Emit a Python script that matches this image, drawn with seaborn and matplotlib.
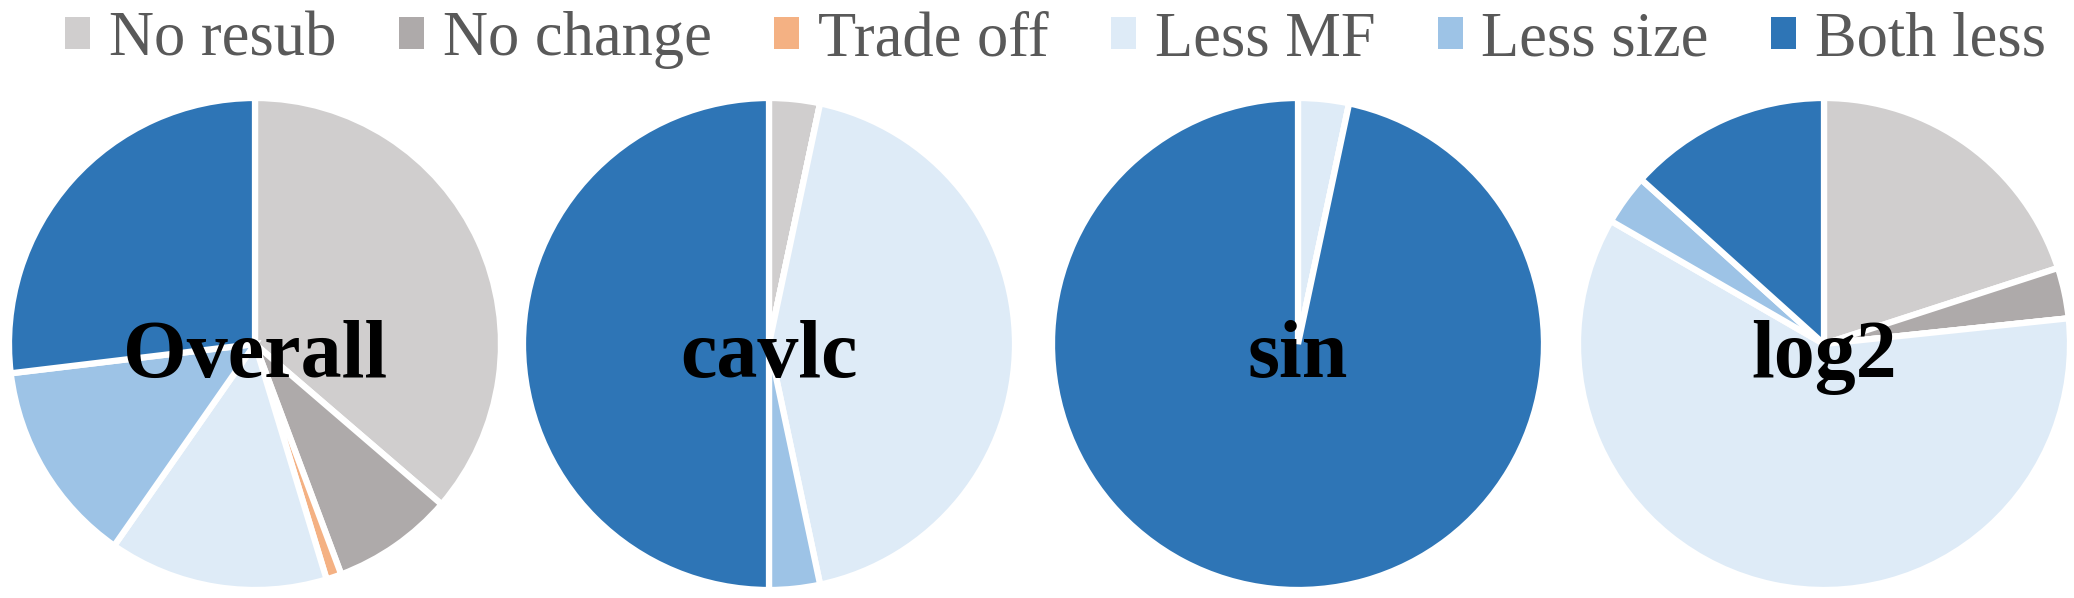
import matplotlib
matplotlib.use("Agg")
import matplotlib.pyplot as plt
from matplotlib.patches import Patch
import seaborn as sns

# categories and colours (Excel-like palette)
categories = ['No resub', 'No change', 'Trade off', 'Less MF', 'Less size', 'Both less']
colors = ['#D0CECE', '#AEAAAA', '#F4B183', '#DEEBF7', '#9DC3E6', '#2E75B6']

# share of each category per benchmark
overall = [36.3, 8.0, 1.0, 14.4, 13.4, 26.9]
cavlc = [1, 0, 0, 13, 1, 15]
sin = [0, 0, 0, 1, 0, 29]
log2 = [6, 1, 0, 18, 1, 4]

titles = ['Overall', 'cavlc', 'sin', 'log2']
series = [overall, cavlc, sin, log2]

sns.set_theme(style='white')
plt.rcParams['font.family'] = ['Liberation Serif', 'DejaVu Serif']

fig = plt.figure(figsize=(20.74, 5.98), dpi=100)
W, H = 2074, 598

# pie centres / radius in pixels
centers_x = [255, 769, 1298, 1824]
center_y = 344
radius = 246

palette = sns.color_palette(colors)

for cx, title, vals in zip(centers_x, titles, series):
    ax = fig.add_axes([(cx - radius) / W, (H - center_y - radius) / H,
                       2 * radius / W, 2 * radius / H])
    ax.pie(vals, colors=palette, startangle=90, counterclock=False,
           radius=1.0,
           wedgeprops=dict(edgecolor='white', linewidth=4.5))
    ax.set_xlim(-1, 1)
    ax.set_ylim(-1, 1)
    ax.set_aspect('equal')
    ax.axis('off')
    ax.text(0, -0.135, title, ha='center', va='baseline',
            fontsize=59, fontweight='bold', color='black')

# legend at the top
handles = [Patch(facecolor=c, edgecolor='none') for c in palette]
leg = fig.legend(handles, categories, loc='upper center', ncol=6,
                 bbox_to_anchor=(0.509, 1.075), frameon=False,
                 fontsize=45, handlelength=0.4, handleheight=0.4,
                 handletextpad=0.3, columnspacing=1.0)
for t in leg.get_texts():
    t.set_color('#595959')

fig.savefig('out.png', dpi=100, facecolor='white')
